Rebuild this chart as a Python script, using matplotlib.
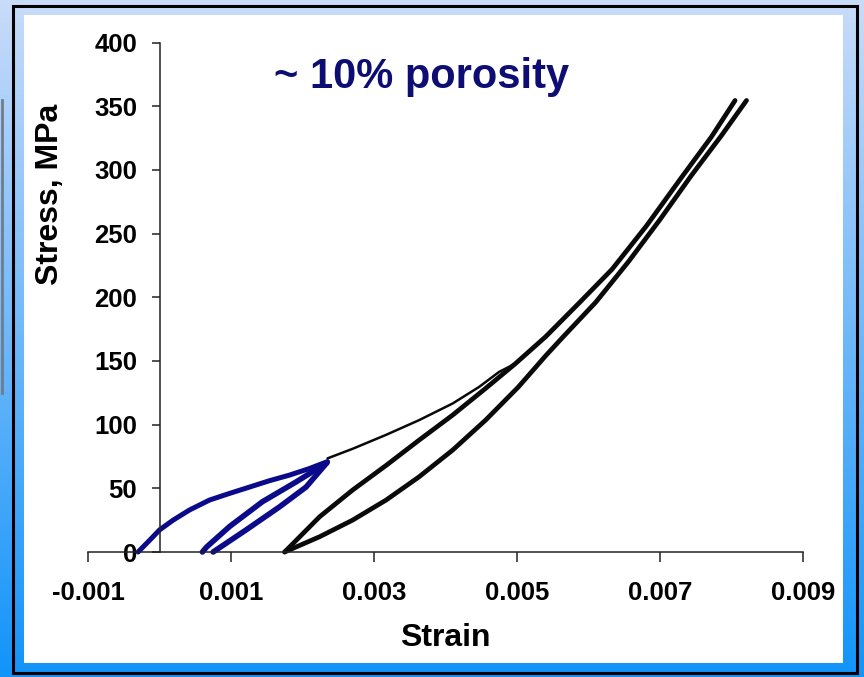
import numpy as np
import matplotlib
matplotlib.use("Agg")
import matplotlib.pyplot as plt
from matplotlib.patches import Rectangle
from matplotlib.lines import Line2D

# ---------------- data ----------------
blue_load_strain = [-0.0003, -0.000135, 0.0, 0.00019, 0.00042, 0.0007, 0.00098,
                    0.00126, 0.00154, 0.00182, 0.0021, 0.00235]
blue_load_stress = [0, 9.4, 17.3, 25, 33, 40.8, 46, 51, 56, 60.4, 65.6, 71]

blue_unload_strain = [0.00234, 0.00205, 0.00168, 0.00121, 0.00075]
blue_unload_stress = [70, 51, 35.5, 17.3, 0]
blue_reload_strain = [0.0006, 0.00066, 0.00098, 0.00144, 0.00191, 0.00234]
blue_reload_stress = [0, 4, 20, 39.5, 55, 70]

black_load_strain = [0.00235, 0.0027, 0.00317, 0.00363, 0.0041, 0.00447, 0.00475, 0.00498]
black_load_stress = [73.5, 81, 92, 103.5, 116.6, 129.6, 141.4, 148]

black_reload_strain = [0.00175, 0.00224, 0.0027, 0.00317, 0.00363, 0.0041, 0.00456,
                       0.00498, 0.0054, 0.00586, 0.00633, 0.00681, 0.0073, 0.00772, 0.00805]
black_reload_stress = [0, 27.7, 48.6, 68, 87.8, 107.5, 128.4,
                       148, 169, 195, 222, 256, 294, 326, 354.5]

black_unload_strain = [0.00821, 0.00786, 0.00744, 0.0070, 0.00656, 0.0061, 0.00563,
                       0.0054, 0.00502, 0.00456, 0.0041, 0.00363, 0.00317, 0.0027,
                       0.00224, 0.00175]
black_unload_stress = [354.5, 327, 295.7, 261, 228, 196, 168,
                       154, 129.6, 103.5, 80, 59, 40.8, 25, 12, 0]

x_ticks = [-0.001, 0.001, 0.003, 0.005, 0.007, 0.009]
x_tick_labels = ["-0.001", "0.001", "0.003", "0.005", "0.007", "0.009"]
y_ticks = [0, 50, 100, 150, 200, 250, 300, 350, 400]

# ---------------- figure ----------------
plt.rcParams['font.family'] = ['Liberation Sans', 'DejaVu Sans']
plt.rcParams['font.weight'] = 'bold'

W, H = 864, 677
fig = plt.figure(figsize=(W / 100, H / 100), dpi=100)

# background gradient
bg = fig.add_axes([0, 0, 1, 1])
bg.set_axis_off()
top = np.array([0.79, 0.86, 0.98])
bot = np.array([0.07, 0.58, 0.98])
t = np.linspace(0, 1, 256)[:, None]
grad = top[None, :] * (1 - t) + bot[None, :] * t
bg.imshow(grad[:, None, :], aspect='auto', extent=[0, 1, 0, 1], origin='upper')
bg.set_xlim(0, 1)
bg.set_ylim(0, 1)


def fx(px):
    return px / W


def fy(py):
    return 1 - py / H


# gray artifact on the far left
bg.add_line(Line2D([fx(1.5), fx(1.5)], [fy(100), fy(393)], color='#707c8c', lw=2))
# black frame
bg.add_patch(Rectangle((fx(13), fy(673)), fx(857) - fx(13), fy(6) - fy(673),
                       fill=False, edgecolor='black', lw=2.2))
# white panel
bg.add_patch(Rectangle((fx(24), fy(663)), fx(843) - fx(24), fy(15) - fy(663),
                       facecolor='white', edgecolor='none'))

# main axes
left, right = 88 / W, 803 / W
bottom, topf = 1 - 552 / H, 1 - 42.5 / H
ax = fig.add_axes([left, bottom, right - left, topf - bottom])
ax.set_facecolor('none')
ax.set_xlim(-0.001, 0.009)
ax.set_ylim(0, 400)

for s in ['top', 'right']:
    ax.spines[s].set_visible(False)
ax.spines['left'].set_position(('data', 0))
ax.spines['left'].set_color('#222222')
ax.spines['bottom'].set_color('#222222')
ax.spines['left'].set_linewidth(1.1)
ax.spines['bottom'].set_linewidth(1.1)

ax.set_xticks(x_ticks)
ax.set_xticklabels(x_tick_labels)
ax.set_yticks(y_ticks)
ax.tick_params(axis='x', direction='out', length=7, width=1.1, pad=14,
               labelsize=18.5, colors='#222222', labelcolor='black')
ax.tick_params(axis='y', direction='out', length=6, width=1.1, pad=10,
               labelsize=18.5, colors='#222222', labelcolor='black')
for lab in ax.get_xticklabels() + ax.get_yticklabels():
    lab.set_fontweight('bold')

navy = '#0a0a8a'
black = '#0a0a0a'
kw = dict(solid_capstyle='round', solid_joinstyle='round', clip_on=False)

# blue curves
ax.plot(blue_load_strain, blue_load_stress, color=navy, lw=3.6, **kw)
ax.plot(blue_unload_strain, blue_unload_stress, color=navy, lw=4.0, **kw)
ax.plot(blue_reload_strain, blue_reload_stress, color=navy, lw=4.0, **kw)

# black curves
ax.plot(black_load_strain, black_load_stress, color=black, lw=1.8, **kw)
ax.plot(black_reload_strain, black_reload_stress, color=black, lw=3.4, **kw)
ax.plot(black_unload_strain, black_unload_stress, color=black, lw=3.4, **kw)

# annotation
ax.text(0.00366, 364, "~ 10% porosity", color='#0d0d73', fontsize=30,
        fontweight='bold', ha='center', va='baseline')

# axis labels
fig.text(fx(445), fy(646), "Strain", fontsize=23, fontweight='bold',
         ha='center', va='baseline')
fig.text(fx(50), fy(194), "Stress, MPa", fontsize=23, fontweight='bold',
         ha='center', va='center', rotation=90)

fig.savefig("out.png", dpi=100)
